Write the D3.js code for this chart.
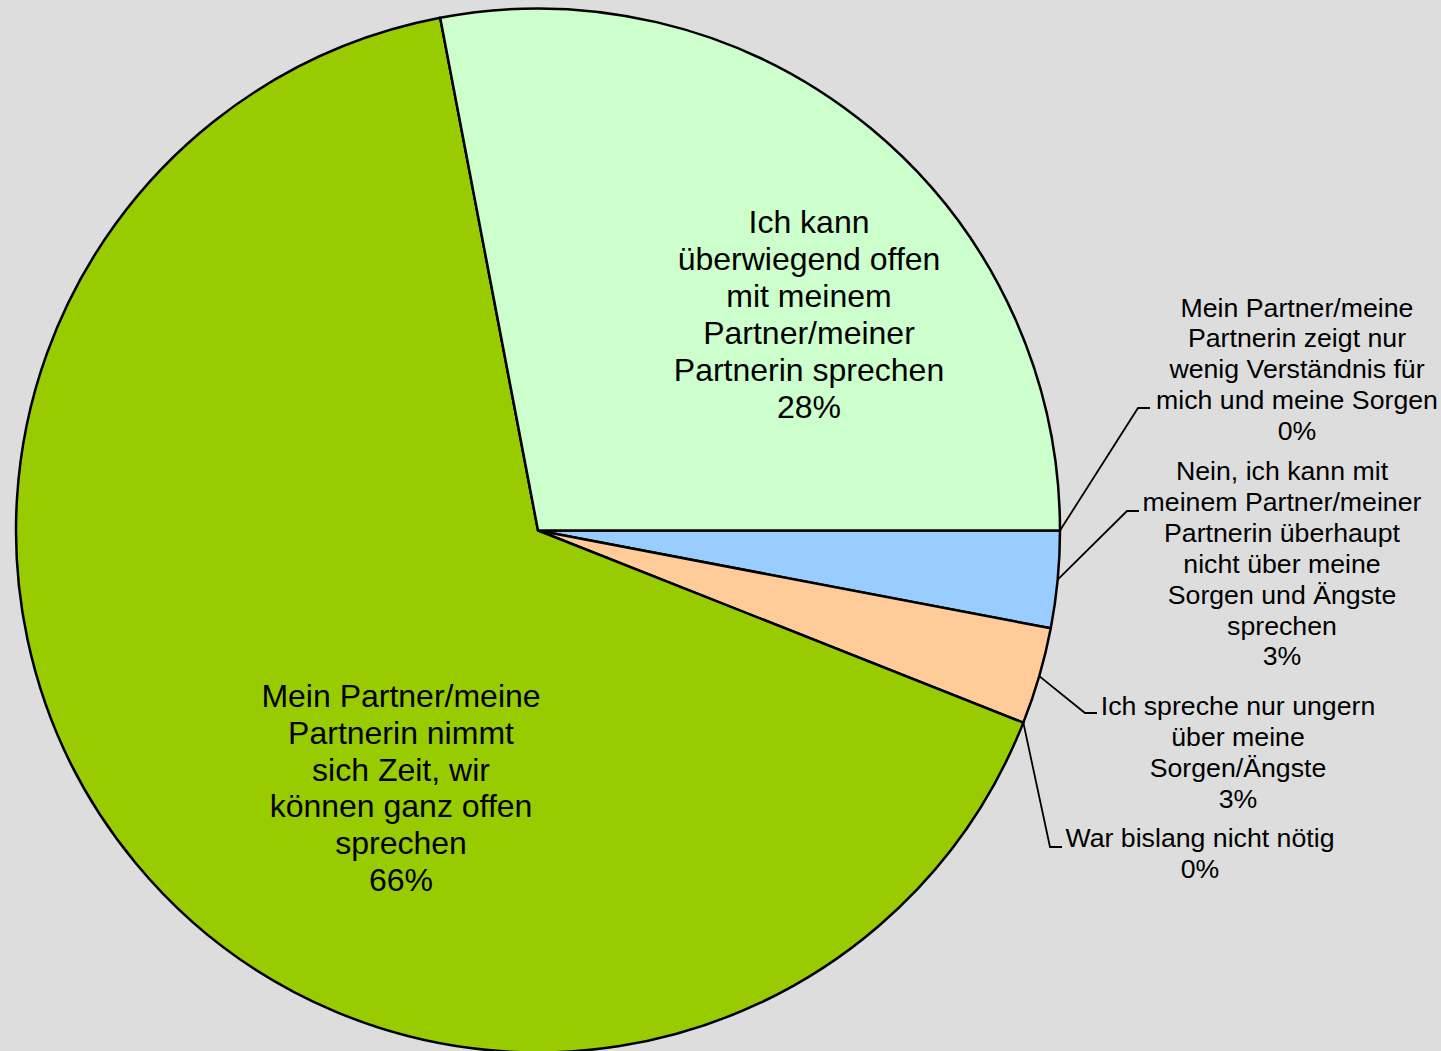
<!DOCTYPE html>
<html>
<head>
<meta charset="utf-8">
<script src="https://cdn.jsdelivr.net/npm/d3@7"></script>
<style>
  html, body { margin: 0; padding: 0; background: #dddddd; overflow: hidden; }
  svg { display: block; }
</style>
</head>
<body>
<script>
// Survey answers, in clockwise order starting at 3 o'clock
const categories = [
  "Mein Partner/meine Partnerin zeigt nur wenig Verständnis für mich und meine Sorgen",
  "Nein, ich kann mit meinem Partner/meiner Partnerin überhaupt nicht über meine Sorgen und Ängste sprechen",
  "Ich spreche nur ungern über meine Sorgen/Ängste",
  "War bislang nicht nötig",
  "Mein Partner/meine Partnerin nimmt sich Zeit, wir können ganz offen sprechen",
  "Ich kann überwiegend offen mit meinem Partner/meiner Partnerin sprechen"
];

// Share of answers in percent
const values = [0, 3, 3, 0, 66, 28];

// Wrapped label text for each answer
const labelLines = [
  ["Mein Partner/meine", "Partnerin zeigt nur", "wenig Verständnis für", "mich und meine Sorgen"],
  ["Nein, ich kann mit", "meinem Partner/meiner", "Partnerin überhaupt", "nicht über meine", "Sorgen und Ängste", "sprechen"],
  ["Ich spreche nur ungern", "über meine", "Sorgen/Ängste"],
  ["War bislang nicht nötig"],
  ["Mein Partner/meine", "Partnerin nimmt", "sich Zeit, wir", "können ganz offen", "sprechen"],
  ["Ich kann", "überwiegend offen", "mit meinem", "Partner/meiner", "Partnerin sprechen"]
];

const palette = ["#ffffff", "#99ccff", "#ffcc99", "#ffffff", "#99cc00", "#ccffcc"];

// Label placement: centre x, baseline of first line, text size, leader elbow
const labelLayout = [
  { x: 1297, y: 316.5, big: false, elbow: [1138, 408] },
  { x: 1282, y: 480,   big: false, elbow: [1127, 511] },
  { x: 1238, y: 715,   big: false, elbow: [1085, 713] },
  { x: 1200, y: 846.7, big: false, elbow: [1050, 847] },
  { x: 401,  y: 706.7, big: true,  elbow: null },
  { x: 809,  y: 233,   big: true,  elbow: null }
];

const W = 1441, H = 1051;
const cx = 538, cy = 530.5, R = 522;

const svg = d3.select("body").append("svg")
  .attr("width", W).attr("height", H);

svg.append("rect").attr("width", W).attr("height", H).attr("fill", "#dddddd");

const data = categories.map((c, i) => ({ name: c, value: values[i], i }));

const pie = d3.pie()
  .value(d => d.value)
  .sort(null)
  .startAngle(Math.PI / 2)
  .endAngle(Math.PI / 2 + 2 * Math.PI);

const arcs = pie(data);
const arc = d3.arc().innerRadius(0).outerRadius(R);

const g = svg.append("g").attr("transform", `translate(${cx},${cy})`);

g.selectAll("path.slice")
  .data(arcs.filter(a => a.data.value > 0))
  .join("path")
  .attr("class", "slice")
  .attr("d", arc)
  .attr("fill", a => palette[a.data.i])
  .attr("stroke", "#000")
  .attr("stroke-width", 2.5)
  .attr("stroke-linejoin", "round");

// Leader lines for the labels outside the pie
arcs.forEach(a => {
  const lay = labelLayout[a.data.i];
  if (!lay.elbow) return;
  const mid = (a.startAngle + a.endAngle) / 2;
  const sx = cx + R * Math.sin(mid);
  const sy = cy - R * Math.cos(mid);
  const [ex, ey] = lay.elbow;
  svg.append("path")
    .attr("d", `M${sx},${sy}L${ex},${ey}L${ex + 12},${ey}`)
    .attr("fill", "none")
    .attr("stroke", "#000")
    .attr("stroke-width", 1.8);
});

// Category labels with their percentages
arcs.forEach(a => {
  const i = a.data.i;
  const lay = labelLayout[i];
  const size = lay.big ? 32 : 26.7;
  const lh = lay.big ? 36.9 : 30.9;
  const lines = labelLines[i].concat([`${a.data.value}%`]);
  const t = svg.append("text")
    .attr("text-anchor", "middle")
    .attr("font-family", "'Liberation Sans', Arial, sans-serif")
    .attr("font-size", size)
    .attr("fill", "#000");
  lines.forEach((ln, k) => {
    t.append("tspan").attr("x", lay.x).attr("y", lay.y + k * lh).text(ln);
  });
});
</script>
</body>
</html>
